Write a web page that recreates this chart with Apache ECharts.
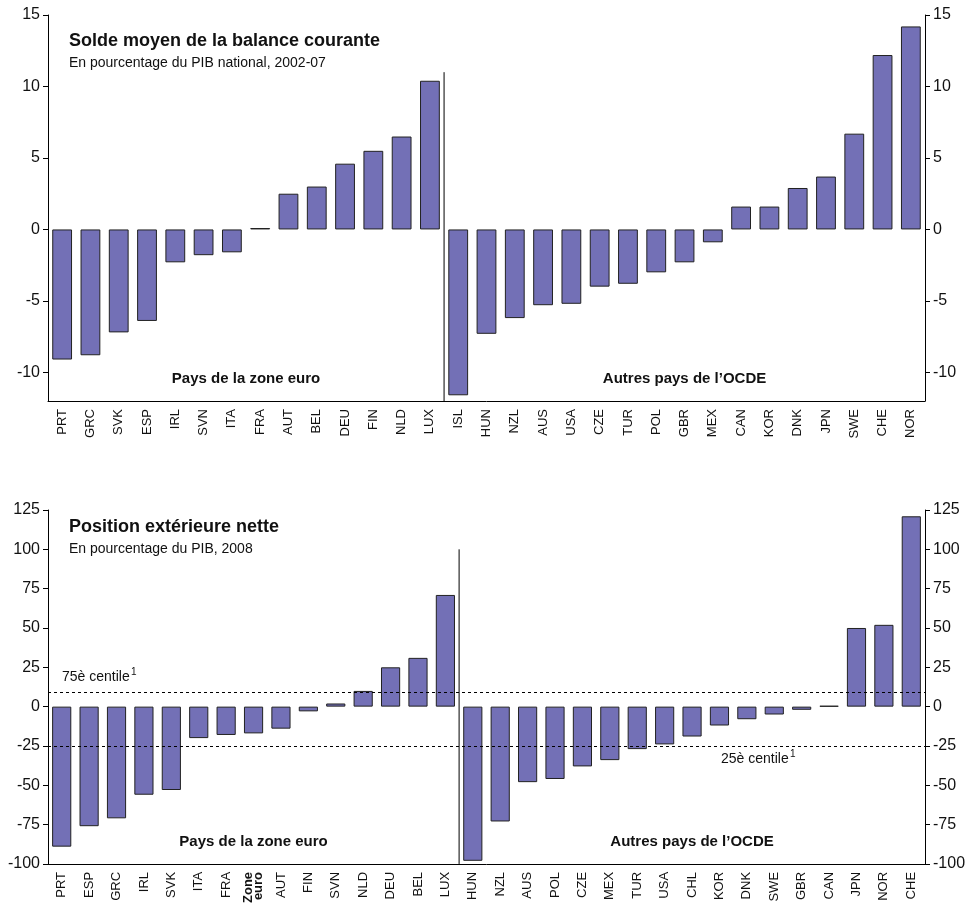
<!DOCTYPE html>
<html lang="fr">
<head>
<meta charset="UTF-8">
<script src="https://cdn.jsdelivr.net/npm/echarts@6/dist/echarts.min.js"></script>
<style>
  * { margin: 0; padding: 0; }
  body { background: #fff; }
  #chart { width: 971px; height: 906px; }
</style>
</head>
<body>
<div id="chart"></div>
<script>
// Current account balance, 2002-07
const topCats = ['PRT','GRC','SVK','ESP','IRL','SVN','ITA','FRA','AUT','BEL','DEU','FIN','NLD','LUX',
  'ISL','HUN','NZL','AUS','USA','CZE','TUR','POL','GBR','MEX','CAN','KOR','DNK','JPN','SWE','CHE','NOR'];
const topVals = [-9.1,-8.8,-7.2,-6.4,-2.3,-1.8,-1.6,0.1,2.5,3.0,4.6,5.5,6.5,10.4,
  -11.6,-7.3,-6.2,-5.3,-5.2,-4.0,-3.8,-3.0,-2.3,-0.9,1.6,1.6,2.9,3.7,6.7,12.2,14.2];
const topTicks = [-10, -5, 0, 5, 10, 15];
const topSplit = 14;

// Net external position, 2008
const botCats = ['PRT','ESP','GRC','IRL','SVK','ITA','FRA','Zone\neuro','AUT','FIN','SVN','NLD','DEU','BEL','LUX',
  'HUN','NZL','AUS','POL','CZE','MEX','TUR','USA','CHL','KOR','DNK','SWE','GBR','CAN','JPN','NOR','CHE'];
const botVals = [-89,-76,-71,-56,-53,-20,-18,-17,-14,-3,2,10,25,31,71,
  -98,-73,-48,-46,-38,-34,-27,-24,-19,-12,-8,-5,-2,0.5,50,52,121];
const botTicks = [-100, -75, -50, -25, 0, 25, 50, 75, 100, 125];
const botSplit = 15;
const p75 = 9, p25 = -25;

const barColor = '#7370b6';
const font = 'Liberation Sans, Arial, sans-serif';
const chart = echarts.init(document.getElementById('chart'));

function yAxes(gi, min, max, ticks) {
  const base = {
    gridIndex: gi, type: 'value', min: min, max: max,
    axisLine: { show: true, lineStyle: { color: '#000' } },
    axisTick: { show: true, length: 5, customValues: ticks, lineStyle: { color: '#000' } },
    axisLabel: { color: '#111', fontSize: 16, fontFamily: font, customValues: ticks },
    splitLine: { show: false }
  };
  return [Object.assign({ position: 'left' }, base),
          Object.assign({ position: 'right' }, base)];
}
function xAxis(gi, cats) {
  return {
    gridIndex: gi, type: 'category', data: cats, position: 'bottom',
    axisLine: { onZero: false, lineStyle: { color: '#000' } },
    axisTick: { show: false },
    axisLabel: {
      interval: 0, rotate: 90, color: '#111', fontSize: 13, fontFamily: font, margin: 8,
      lineHeight: 10,
      formatter: v => v.indexOf('\n') >= 0 ? '{b|' + v + '}' : v,
      rich: { b: { fontWeight: 'bold', fontSize: 13, lineHeight: 10, fontFamily: font } }
    }
  };
}
const textStyle = { fontFamily: font, fill: '#111' };

chart.setOption({
  animation: false,
  grid: [
    { left: 48, right: 46, top: 15, height: 386 },
    { left: 48, right: 46, top: 510, height: 356 }
  ],
  xAxis: [xAxis(0, topCats), xAxis(1, botCats)],
  yAxis: yAxes(0, -12, 15, topTicks).concat(yAxes(1, -100, 125, botTicks)),
  series: [
    { type: 'bar', xAxisIndex: 0, yAxisIndex: 0, data: topVals, barCategoryGap: '30%',
      itemStyle: { color: barColor, borderColor: '#222', borderWidth: 1 } },
    { type: 'bar', xAxisIndex: 1, yAxisIndex: 2, data: botVals, barCategoryGap: '30%',
      itemStyle: { color: barColor, borderColor: '#222', borderWidth: 1 },
      markLine: {
        silent: true, symbol: 'none', label: { show: false },
        lineStyle: { color: '#000', type: [3, 3], width: 1 },
        data: [{ yAxis: p75 }, { yAxis: p25 }]
      } }
  ]
});

// Divider lines and captions placed via the axes' own scales
const g = [];
function divider(gi, yAxisIndex, split, yTop, yBot) {
  const a = chart.convertToPixel({ xAxisIndex: gi, yAxisIndex: yAxisIndex }, [split - 1, yTop]);
  const b = chart.convertToPixel({ xAxisIndex: gi, yAxisIndex: yAxisIndex }, [split, yBot]);
  const x = (a[0] + b[0]) / 2;
  g.push({ type: 'line', shape: { x1: x, y1: a[1], x2: x, y2: b[1] }, style: { stroke: '#000', lineWidth: 1 } });
  return x;
}
const r0 = chart.getModel().getComponent('grid', 0).coordinateSystem.getRect();
const r1 = chart.getModel().getComponent('grid', 1).coordinateSystem.getRect();
const x0 = divider(0, 0, topSplit, 11, -12);
const x1 = divider(1, 2, botSplit, 100, -100);

function txt(x, y, s, size, bold, align) {
  g.push({ type: 'text', x: x, y: y, style: Object.assign({ text: s, fontSize: size,
    fontWeight: bold ? 'bold' : 'normal', textAlign: align || 'left', textVerticalAlign: 'top' }, textStyle) });
}
txt(r0.x + 21, r0.y + 17, 'Solde moyen de la balance courante', 18, true);
txt(r0.x + 21, r0.y + 41, 'En pourcentage du PIB national, 2002-07', 14, false);
txt((r0.x + x0) / 2, r0.y + r0.height - 30, 'Pays de la zone euro', 15, true, 'center');
txt((x0 + r0.x + r0.width) / 2, r0.y + r0.height - 30, 'Autres pays de l\u2019OCDE', 15, true, 'center');

txt(r1.x + 21, r1.y + 8, 'Position extérieure nette', 18, true);
txt(r1.x + 21, r1.y + 32, 'En pourcentage du PIB, 2008', 14, false);
txt((r1.x + x1) / 2, r1.y + r1.height - 30, 'Pays de la zone euro', 15, true, 'center');
txt((x1 + r1.x + r1.width) / 2, r1.y + r1.height - 30, 'Autres pays de l\u2019OCDE', 15, true, 'center');
const y75 = chart.convertToPixel({ yAxisIndex: 2 }, p75);
const y25 = chart.convertToPixel({ yAxisIndex: 2 }, p25);
txt(r1.x + 14, y75 - 22, '75è centile', 14, false);
txt(r1.x + 83, y75 - 25, '1', 10, false);
txt(r1.x + r1.width - 204, y25 + 6, '25è centile', 14, false);
txt(r1.x + r1.width - 135, y25 + 3, '1', 10, false);

chart.setOption({ graphic: g });
</script>
</body>
</html>
